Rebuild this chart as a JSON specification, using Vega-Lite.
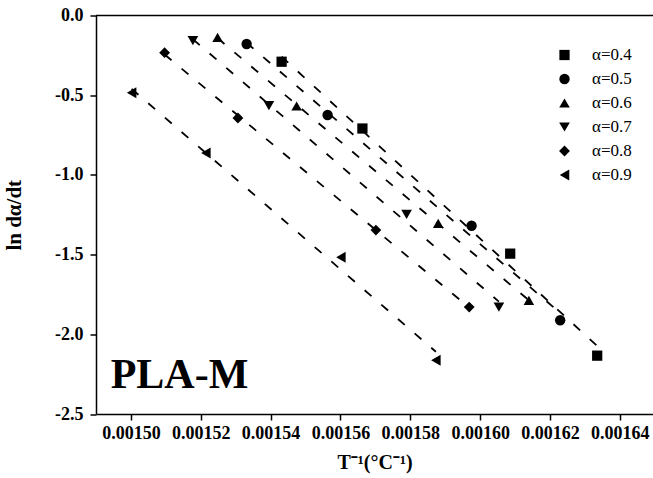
{
  "$schema": "https://vega.github.io/schema/vega-lite/v6.json",
  "width": 557,
  "height": 398.5,
  "autosize": {"type": "none"},
  "padding": {"left": 96, "top": 15.5, "right": 0, "bottom": 64},
  "background": "white",
  "config": {"view": {"stroke": null}, "font": "Liberation Serif"},
  "data": {
    "values": [
      {"series": "α=0.4", "invT": 0.00154315, "lnrate": -0.290},
      {"series": "α=0.4", "invT": 0.00156629, "lnrate": -0.709},
      {"series": "α=0.4", "invT": 0.00160861, "lnrate": -1.494},
      {"series": "α=0.4", "invT": 0.00163352, "lnrate": -2.134},
      {"series": "α=0.5", "invT": 0.00153313, "lnrate": -0.179},
      {"series": "α=0.5", "invT": 0.00155632, "lnrate": -0.624},
      {"series": "α=0.5", "invT": 0.00159755, "lnrate": -1.319},
      {"series": "α=0.5", "invT": 0.00162292, "lnrate": -1.912},
      {"series": "α=0.6", "invT": 0.00152482, "lnrate": -0.137},
      {"series": "α=0.6", "invT": 0.00154745, "lnrate": -0.568},
      {"series": "α=0.6", "invT": 0.00158799, "lnrate": -1.304},
      {"series": "α=0.6", "invT": 0.00161396, "lnrate": -1.787},
      {"series": "α=0.7", "invT": 0.00151775, "lnrate": -0.158},
      {"series": "α=0.7", "invT": 0.00153951, "lnrate": -0.566},
      {"series": "α=0.7", "invT": 0.00157894, "lnrate": -1.247},
      {"series": "α=0.7", "invT": 0.00160537, "lnrate": -1.829},
      {"series": "α=0.8", "invT": 0.00150965, "lnrate": -0.233},
      {"series": "α=0.8", "invT": 0.00153064, "lnrate": -0.643},
      {"series": "α=0.8", "invT": 0.00157015, "lnrate": -1.346},
      {"series": "α=0.8", "invT": 0.00159687, "lnrate": -1.829},
      {"series": "α=0.9", "invT": 0.00150020, "lnrate": -0.484},
      {"series": "α=0.9", "invT": 0.00152147, "lnrate": -0.863},
      {"series": "α=0.9", "invT": 0.00156013, "lnrate": -1.517},
      {"series": "α=0.9", "invT": 0.00158733, "lnrate": -2.163}
    ]
  },
  "layer": [
    {
      "data": {"values": [{}]},
      "mark": {"type": "rule", "color": "black", "strokeWidth": 1.5},
      "encoding": {"y": {"datum": 0, "type": "quantitative"}}
    },
    {
      "transform": [{"regression": "lnrate", "on": "invT", "groupby": ["series"]}],
      "mark": {"type": "line", "color": "black", "strokeWidth": 1.8, "strokeDash": [9, 13]},
      "encoding": {
        "x": {"field": "invT", "type": "quantitative"},
        "y": {"field": "lnrate", "type": "quantitative"},
        "detail": {"field": "series"}
      }
    },
    {
      "mark": {"type": "point", "filled": true, "color": "black", "opacity": 1},
      "encoding": {
        "x": {
          "field": "invT",
          "type": "quantitative",
          "scale": {"domain": [0.00149, 0.0016495], "nice": false, "zero": false},
          "axis": {
            "title": "T⁻¹(°C⁻¹)",
            "values": [0.0015, 0.00151, 0.00152, 0.00153, 0.00154, 0.00155, 0.00156, 0.00157, 0.00158, 0.00159, 0.0016, 0.00161, 0.00162, 0.00163, 0.00164],
            "labelExpr": "round(datum.value*100000) % 2 ? '' : format(datum.value, '.5f')",
            "tickSize": {"condition": {"test": "round(datum.value*100000) % 2", "value": 3}, "value": 6},
            "grid": false,
            "domainColor": "black",
            "domainWidth": 1.5,
            "tickColor": "black",
            "tickWidth": 1.5,
            "labelFont": "Liberation Serif",
            "labelFontWeight": "bold",
            "labelFontSize": 18,
            "labelColor": "black",
            "labelPadding": 4,
            "labelOverlap": false,
            "labelFlush": false,
            "titleFont": "Liberation Serif",
            "titleFontWeight": "bold",
            "titleFontSize": 20,
            "titleColor": "black",
            "titlePadding": 10
          }
        },
        "y": {
          "field": "lnrate",
          "type": "quantitative",
          "scale": {"domain": [-2.5, 0], "nice": false, "zero": false},
          "axis": {
            "title": "ln dα/dt",
            "values": [-2.5, -2.25, -2, -1.75, -1.5, -1.25, -1, -0.75, -0.5, -0.25, 0],
            "labelExpr": "abs(round(datum.value*4)) % 2 ? '' : (datum.value < 0 ? '-' : '') + format(abs(datum.value), '.1f')",
            "tickSize": {"condition": {"test": "abs(round(datum.value*4)) % 2", "value": 3}, "value": 6},
            "grid": false,
            "domainColor": "black",
            "domainWidth": 1.5,
            "tickColor": "black",
            "tickWidth": 1.5,
            "labelFont": "Liberation Serif",
            "labelFontWeight": "bold",
            "labelFontSize": 18,
            "labelColor": "black",
            "labelPadding": 7,
            "labelOverlap": false,
            "labelFlush": false,
            "titleFont": "Liberation Serif",
            "titleFontWeight": "bold",
            "titleFontSize": 21,
            "titleColor": "black",
            "titlePadding": 30
          }
        },
        "shape": {
          "field": "series",
          "type": "nominal",
          "scale": {
            "domain": ["α=0.4", "α=0.5", "α=0.6", "α=0.7", "α=0.8", "α=0.9"],
            "range": ["square", "circle", "triangle-up", "triangle-down", "diamond", "triangle-left"]
          },
          "legend": {
            "title": null,
            "orient": "none",
            "legendX": 460,
            "legendY": 31,
            "padding": 0,
            "labelFont": "Liberation Serif",
            "labelFontSize": 17,
            "labelColor": "black",
            "labelOffset": 19,
            "rowPadding": 6,
            "symbolFillColor": "black",
            "symbolStrokeWidth": 0
          }
        },
        "size": {
          "field": "series",
          "type": "nominal",
          "scale": {
            "domain": ["α=0.4", "α=0.5", "α=0.6", "α=0.7", "α=0.8", "α=0.9"],
            "range": [105, 120, 170, 170, 150, 170]
          },
          "legend": {
            "title": null,
            "orient": "none",
            "legendX": 460,
            "legendY": 31,
            "padding": 0,
            "labelFont": "Liberation Serif",
            "labelFontSize": 17,
            "labelColor": "black",
            "labelOffset": 19,
            "rowPadding": 6,
            "symbolFillColor": "black",
            "symbolStrokeWidth": 0
          }
        }
      }
    },
    {
      "data": {"values": [{}]},
      "mark": {"type": "text", "text": "PLA-M", "font": "Liberation Serif", "fontSize": 42, "fontWeight": "bold", "align": "left", "baseline": "alphabetic", "color": "black"},
      "encoding": {
        "x": {"datum": 0.0014942, "type": "quantitative"},
        "y": {"datum": -2.339, "type": "quantitative"}
      }
    }
  ]
}
